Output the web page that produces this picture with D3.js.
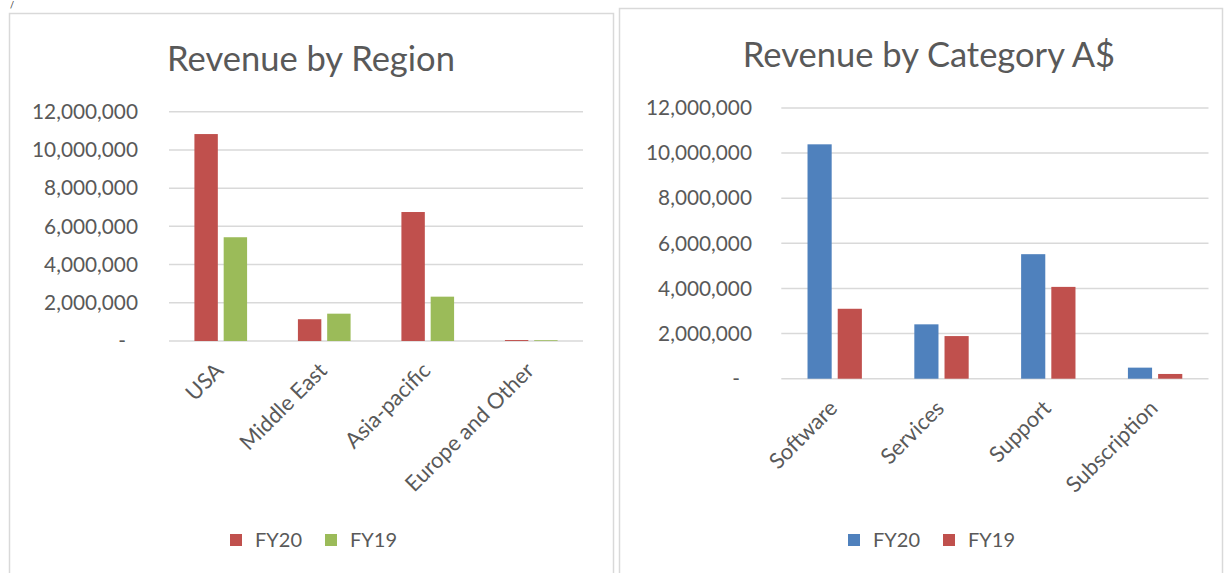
<!DOCTYPE html>
<html>
<head>
<meta charset="utf-8">
<script src="https://cdn.jsdelivr.net/npm/d3@7"></script>
<style>
  html, body { margin: 0; padding: 0; background: #fff; }
  svg { display: block; }
  text { font-family: Lato, "Open Sans", sans-serif; fill: #595959; }
</style>
</head>
<body>
<svg id="chart" width="1224" height="573"></svg>
<script>
// ---- data ----
const regionCategories = ["USA", "Middle East", "Asia-pacific", "Europe and Other"];
const regionFY20 = [10830000, 1140000, 6750000, 50000];
const regionFY19 = [5430000, 1430000, 2320000, 40000];

const productCategories = ["Software", "Services", "Support", "Subscription"];
const productFY20 = [10390000, 2410000, 5520000, 490000];
const productFY19 = [3100000, 1890000, 4070000, 210000];

const yTicks = [0, 2000000, 4000000, 6000000, 8000000, 10000000, 12000000];
const seriesNames = ["FY20", "FY19"];

const svg = d3.select("#chart");

// panel borders
svg.append("rect").attr("x", 9.5).attr("y", 13.5).attr("width", 604).attr("height", 600)
  .attr("fill", "#fff").attr("stroke", "#d9d9d9").attr("stroke-width", 1.5);
svg.append("rect").attr("x", 619.5).attr("y", 8.5).attr("width", 603).attr("height", 600)
  .attr("fill", "#fff").attr("stroke", "#d9d9d9").attr("stroke-width", 1.5);
svg.append("text").attr("x", 10).attr("y", 8).attr("font-size", 9).style("fill", "#333").text("/");

const fmt = d3.format(",");

function drawChart(cfg) {
  const g = svg.append("g");
  const x0 = d3.scaleBand().domain(cfg.categories).range([cfg.x0, cfg.x1]).padding(0);
  const y = d3.scaleLinear().domain([0, 12000000]).range([cfg.yZero, cfg.yTop]);
  const groupW = x0.bandwidth() * 0.509;
  const x1 = d3.scaleBand().domain(seriesNames).range([-groupW / 2, groupW / 2]).paddingInner(0.2);

  // title
  g.append("text").attr("x", cfg.titleX).attr("y", cfg.titleY)
    .attr("text-anchor", "middle").attr("font-size", cfg.titleSize).text(cfg.title);

  // gridlines
  g.append("g").selectAll("line").data(yTicks).join("line")
    .attr("x1", cfg.x0).attr("x2", cfg.x1)
    .attr("y1", d => y(d)).attr("y2", d => y(d))
    .attr("stroke", "#d9d9d9").attr("stroke-width", 1.5);

  // y axis labels
  const yAxis = d3.axisLeft(y).tickValues(yTicks).tickSize(0)
    .tickFormat(d => d === 0 ? "-" : fmt(d));
  const ya = g.append("g").attr("transform", `translate(${cfg.labelRight},0)`).call(yAxis);
  ya.select(".domain").remove();
  ya.selectAll("text").attr("font-size", 20.8).style("fill", "#595959")
    .attr("font-family", "Lato, 'Open Sans', sans-serif")
    .attr("dx", d => d === 0 ? -12 : 0);

  // bars
  const data = cfg.categories.map((c, i) => ({ c, vals: [cfg.s1[i], cfg.s2[i]] }));
  const grp = g.append("g").selectAll("g").data(data).join("g")
    .attr("transform", d => `translate(${x0(d.c) + x0.bandwidth() / 2},0)`);
  grp.selectAll("rect").data(d => d.vals.map((v, j) => ({ v, s: seriesNames[j], j })))
    .join("rect")
    .attr("x", d => x1(d.s))
    .attr("width", x1.bandwidth())
    .attr("y", d => y(d.v))
    .attr("height", d => y(0) - y(d.v))
    .attr("fill", d => cfg.colors[d.j]);

  // x labels
  g.append("g").selectAll("text").data(cfg.categories).join("text")
    .attr("transform", d => `translate(${x0(d) + x0.bandwidth() / 2 + 4},${cfg.yZero + 31}) rotate(-45)`)
    .attr("text-anchor", "end").attr("font-size", 21.8).text(d => d);

  // legend
  const lg = g.append("g");
  seriesNames.forEach((s, j) => {
    lg.append("rect").attr("x", cfg.legX + j * 95).attr("y", 534).attr("width", 12).attr("height", 12)
      .attr("fill", cfg.colors[j]);
    lg.append("text").attr("x", cfg.legX + j * 95 + 25).attr("y", 547).attr("font-size", 20).text(s);
  });
}

drawChart({
  title: "Revenue by Region", titleX: 311, titleY: 71, titleSize: 34.5,
  categories: regionCategories, s1: regionFY20, s2: regionFY19,
  colors: ["#C0504D", "#9BBB59"],
  x0: 169, x1: 583, yZero: 341, yTop: 111.7, labelRight: 141, legX: 230
});

drawChart({
  title: "Revenue by Category A$", titleX: 929, titleY: 67, titleSize: 34.5,
  categories: productCategories, s1: productFY20, s2: productFY19,
  colors: ["#4F81BD", "#C0504D"],
  x0: 781.3, x1: 1208.5, yZero: 378.7, yTop: 108, labelRight: 755, legX: 848
});
</script>
</body>
</html>
